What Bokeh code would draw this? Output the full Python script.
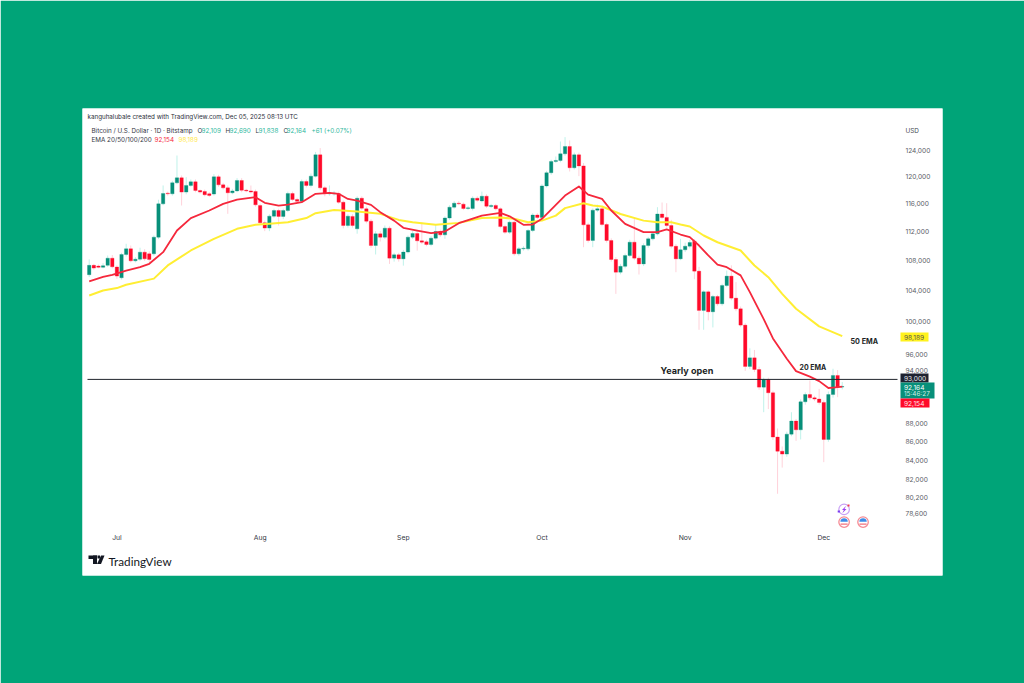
from bokeh.plotting import figure
from bokeh.embed import file_html
from bokeh.resources import INLINE
from bokeh.models import (FixedTicker, Label, NumeralTickFormatter,
                          PolyAnnotation, ColumnDataSource, Range1d)
import math

# ---- data (BTC/USD daily, 25 Jun - 5 Dec 2025) ----
opens = [106050,107300,107200,107030,107300,108270,107070,105640,108770,109550,
 107910,108130,109090,108860,108860,111160,115900,117470,117370,119000,
 119750,117620,118610,119150,117860,117720,117370,117330,119900,118700,
 118250,117520,117800,119350,117900,117800,117720,115660,113180,112430,
 114130,114940,114090,114940,117420,116530,116290,119200,118610,120000,
 123250,118250,117370,117370,117370,116140,112800,114090,112330,116720,
 115180,113410,110005,111630,111160,112420,108270,108730,108180,109100,
 111160,111670,110650,110510,110140,111020,111950,111480,113860,115420,
 116000,115860,115230,115230,116720,116330,117020,115520,115670,115185,
 112650,111860,113260,108860,109540,109540,112090,114290,113950,118540,
 120510,122230,122390,123400,124550,121270,123250,121550,112890,110700,
 114990,115185,112940,110700,108090,106380,107170,108630,110466,108270,
 107490,110000,110930,111620,114430,113950,112794,109900,108180,109410,
 109910,110605,106520,101400,103800,101230,103190,102250,104620,105860,
 102975,101610,99550,94520,95550,94160,92100,92950,91450,86510,
 84990,84680,86830,88260,87300,90420,91250,90870,90730,90350,
 86250,91250,93460,92109]
highs = [108110,107500,107400,107600,108630,108700,107300,109000,110240,110000,
 108400,109700,109500,109200,111400,116500,118610,117700,119300,123150,
 120100,119850,119500,119500,118000,118000,117600,120300,120200,119000,
 118600,118100,119700,119700,118100,118600,118000,115900,113500,114400,
 115200,115200,115200,117700,117700,116800,119500,119500,120400,123700,
 124300,118500,118610,117800,117700,116400,114400,114400,117000,117000,
 115500,113700,112000,112000,112800,112700,109000,109000,109400,111400,
 112000,112000,113260,110800,111300,112890,112200,114100,115700,116300,
 116300,116100,115600,117000,117000,117700,117300,115900,115900,115400,
 112900,113500,113500,109800,109900,112300,114550,114550,118800,120800,
 122500,123000,125330,126020,125500,123600,123600,122000,113200,115250,
 115800,115450,113200,111000,108400,107500,108900,110800,113950,108600,
 110300,111200,111900,115420,116100,116000,113600,110200,110930,110400,
 110800,110900,107100,104000,104000,103400,103400,104850,106600,107300,
 105070,101900,99800,96700,96500,94500,93200,93200,91700,87450,
 85500,87100,89250,88500,90700,91500,92870,91100,91900,90600,
 91600,94250,94100,92690]
lows = [105740,106700,106900,106900,107100,106900,105510,105400,108500,107700,
 107700,107900,107900,107730,108600,110900,115700,117100,117100,118800,
 115660,117300,118400,117600,117400,117000,116900,117100,118400,118000,
 114460,117300,117600,117600,117600,117400,115500,112900,112000,112000,
 113900,112800,113700,114700,116300,116000,116000,118300,118300,119800,
 117900,117000,117100,117100,115900,112400,112500,112500,111640,115000,
 113100,109700,108770,110550,110900,107490,107800,107800,107260,108900,
 110900,109300,110200,109900,109900,110800,111200,110930,113600,115200,
 115700,115000,115000,114950,116200,116100,115300,115300,114950,112400,
 111600,111600,108600,108600,109300,109300,111850,113700,113700,118300,
 120200,122000,122100,123100,120700,121000,120000,109770,110400,109770,
 114700,112700,110400,107800,103530,106100,106900,108400,108000,106070,
 107200,109700,110700,111400,113700,112500,109600,106380,108000,109100,
 109600,105450,98970,98970,100150,99260,102000,102000,104400,102700,
 101300,99300,94000,94200,93850,91800,89250,89600,86200,80570,
 83260,84400,86600,86100,86250,90100,90600,90500,90100,83830,
 86000,90900,90950,91838]
closes = [107300,106930,107030,107250,108270,107110,105860,108770,109550,107910,
 108130,109090,108180,108090,111160,115900,117420,117370,119000,119750,
 117620,118610,119150,117860,117620,117230,117130,119900,118700,118250,
 117520,117800,119350,117900,117800,117620,115760,113180,112430,114130,
 114940,114090,114940,117420,116530,116290,119200,118610,120000,123250,
 118250,117370,117520,117470,116140,112800,114130,112800,116720,115280,
 113410,110005,111630,111160,112420,108270,108730,108180,109100,111160,
 111670,110650,110470,110140,111020,111950,111480,113860,115420,116000,
 115900,115230,115330,116720,116430,117020,115570,115670,115185,112650,
 111860,113260,108860,109540,109630,112090,114290,113950,118540,120510,
 122230,122390,123400,124550,121270,123250,121550,112890,110700,114990,
 115185,112940,110700,108090,106380,107170,108630,110466,108270,107490,
 110000,110930,111620,114430,113950,112794,109900,108180,109410,109910,
 110420,106520,101400,103800,101230,103190,102250,104620,105860,102975,
 101610,99550,94520,95550,94160,92100,92950,91450,86510,84990,
 84680,86830,88260,87300,90420,91250,90870,90730,90350,86250,
 91250,93460,92100,92164]

ema20_days = [0,3,5,8,11,13,16,19,22,26,29,32,36,38,41,43,46,49,52,54,56,58,61,63,
 66,68,71,74,77,80,85,89,91,94,96,98,103,106,108,111,113,116,120,123,125,128,
 130,132,134,136,138,141,143,146,148,151,153,156,158,160,161,163]
ema20 = [105160,105750,106040,106600,107050,107510,109090,112090,113850,114940,115900,116530,116870,116050,115660,115800,116140,117370,117520,117370,116620,116380,115760,114700,
 113490,112470,112090,111720,111950,113120,114200,114590,114100,112890,112940,113750,117120,118450,117260,116620,114940,113030,111860,111860,112240,111530,
 111160,110000,108640,107410,107050,105960,103760,100310,97900,95430,93970,93330,92800,92000,92050,92154]
ema50_days = [0,3,6,8,14,17,22,27,32,36,39,43,47,49,53,58,63,67,70,75,80,85,89,92,95,98,101,103,
 107,109,111,115,120,123,126,128,130,133,136,141,144,147,150,153,158,163]
ema50 = [103310,103970,104280,104720,105530,107290,109320,110925,112330,112900,113040,113270,113850,114560,115000,114800,114460,113590,113260,112890,113170,113850,113950,113750,113260,113490,114200,115280,
 116000,115670,115520,114430,113490,113260,113260,112940,112660,111390,110450,109310,107280,105720,103530,101610,99390,98189]

yticks = [78600,80200,82000,84000,86000,88000,94000,96000,100000,104000,108000,112000,116000,120000,124000]
month_days = [6,37,68,98,129,159]
month_names = ["Jul","Aug","Sep","Oct","Nov","Dec"]
yearly_open = 93000
chart_span = [-0.37, 174.96]

BG = "#00A478"; UP = "#07907A"; DOWN = "#FF0A2A"
FONT = "Inter"

days = list(range(len(opens)))
src = ColumnDataSource(dict(
    x=days, o=opens, h=highs, l=lows, c=closes,
    col=[UP if c >= o else DOWN for o, c in zip(opens, closes)],
    wick=["#BFF2EA" if c >= o else "#FFD2DA" for o, c in zip(opens, closes)],
))

W, H = 1024, 683
p = figure(width=W, height=H, output_backend="svg", toolbar_location=None,
           y_axis_type="log", y_axis_location="right",
           x_range=Range1d(-1.45, 184.7), y_range=Range1d(72723, 130625),
           min_border_left=82, min_border_right=W-942, min_border_top=108, min_border_bottom=H-575,
           background_fill_color="white", border_fill_color=BG, outline_line_color=None)
p.grid.visible = False

p.segment("x", "h", "x", "l", source=src, color="wick", line_width=1)
p.vbar("x", 0.74, "o", "c", source=src, fill_color="col", line_color="col", line_width=0.3)
p.line(ema50_days, ema50, color="#FFEE33", line_width=2, line_join="round")
p.line(ema20_days, ema20, color="#F5283C", line_width=1.8, line_join="round")
p.line(chart_span, [yearly_open, yearly_open], color="#20242C", line_width=1)

ax = p.yaxis[0]
ax.fixed_location = chart_span[1]
ax.ticker = FixedTicker(ticks=yticks)
ax.formatter = NumeralTickFormatter(format="0,0")
ax.major_tick_line_color = None; ax.minor_tick_line_color = None; ax.axis_line_color = None
ax.major_label_text_font = FONT; ax.major_label_text_font_size = "6.6px"
ax.major_label_text_color = "#5a5d66"; ax.major_label_standoff = 2

bx = p.xaxis[0]
bx.fixed_location = 77540
bx.ticker = FixedTicker(ticks=month_days)
bx.major_label_overrides = dict(zip(month_days, month_names))
bx.major_tick_line_color = None; bx.minor_tick_line_color = None; bx.axis_line_color = None
bx.major_label_text_font = FONT; bx.major_label_text_font_size = "6.8px"
bx.major_label_text_color = "#33363f"; bx.major_label_standoff = 3

def T(x, y, s, size=6.5, color="#33363f", bold=False, font=FONT, align="left"):
    p.add_layout(Label(x=x, y=y, x_units="canvas", y_units="canvas", text=s,
                       text_font=font, text_font_size=f"{size}px", text_color=color,
                       text_baseline="middle", text_align=align,
                       text_font_style="bold" if bold else "normal"))

def B(l, r, t, b, color):
    xs = [l, r, r, l]; ys = [t, t, b, b]
    p.add_layout(PolyAnnotation(xs=xs, ys=ys, xs_units="canvas", ys_units="canvas",
                 fill_color=color, fill_alpha=1, line_color=None))

def P(xs, ys, color):
    p.add_layout(PolyAnnotation(xs=xs, ys=ys, xs_units="canvas", ys_units="canvas",
                 fill_color=color, fill_alpha=1, line_color=None))

T(87, 116, "kanguhalubale created with TradingView.com, Dec 05, 2025 08:13 UTC", 6.25, "#2a2e39")
T(91, 130, "Bitcoin / U.S. Dollar · 1D · Bitstamp", 6.3)
GR = "#2fb89e"
for x, s, c in [(197,"O","#33363f"),(201,"92,109",GR),(225,"H","#33363f"),(229,"92,690",GR),
                (255,"L","#33363f"),(258,"91,838",GR),(283,"C","#33363f"),(286,"92,164",GR),(311,"+61 (+0.07%)",GR)]:
    T(x, 130, s, 6.3, c)
T(91, 139, "EMA 20/50/100/200", 6.3)
T(154, 139, "92,154", 6.3, "#F5283C")
T(178, 139, "98,189", 6.3, "#FFE94A")
T(905, 130, "USD", 6.4, "#4a4d56")

T(660, 370, "Yearly open", 9.1, "#1c1f26", True)
T(799, 367, "20 EMA", 7.0, "#1c1f26", True)
T(850, 341, "50 EMA", 7.2, "#1c1f26", True)

B(900, 928, 332, 341, "#FFF21E"); T(903.5, 336.5, "98,189", 6.6, "#55524a")
B(900, 928, 373, 382, "#1F2230"); T(903.5, 377.5, "93,000", 6.6, "#e8e8ee")
B(900, 934, 382, 398, "#07907A"); T(903.5, 386.5, "92,164", 6.6, "#ffffff"); T(903.5, 393.5, "15:46:27", 6.4, "#cfeee6")
B(900, 929, 398, 407, "#FF0A2A"); T(903.5, 402.5, "92,154", 6.6, "#ffe5e8")

# TradingView logo
B(88, 96.5, 555, 558.5, "#131722")
B(92.5, 96.5, 555, 563.5, "#131722")
B(97, 99.5, 555, 558, "#131722")
P([100.5,104,100.5,96.5], [555,555,563.5,563.5], "#131722")
T(108, 560, "TradingView", 11.7, "#131722", False, font="Lato")

# event icons under the last candles
ev_x = [163.4, 163.4, 167.5]
ev_y = [79010, 77760, 77760]
p.scatter(ev_x[1:], ev_y[1:], size=10.5, fill_color="#ffffff", line_color="#F58A94", line_width=1.3)
p.wedge(ev_x[1:], [v*1.0003 for v in ev_y[1:]], radius=3.7, radius_units="screen", start_angle=0, end_angle=math.pi,
        fill_color="#3E8CE8", line_color=None)
p.rect(ev_x[1:], [v*0.9975 for v in ev_y[1:]], width=1.55, height=140, fill_color="#F0707C", line_color=None)
p.scatter(ev_x[:1], ev_y[:1], size=10.5, fill_color="#ffffff", line_color="#C9A0F5", line_width=1.2)
P([845.6,841.5,843.4,841.8,846,844], [505.2,509.6,509.6,512.8,508.4,508.4], "#9A3CF0")
P([837.2,839.4,839.4,837.2], [510,510,512,512], "#7A3CF0")
P([847,849,849,847], [504,504,506,506], "#F03C50")

html = file_html(p, INLINE)
html = html.replace("<body>", f'<body style="background:{BG};margin:0;overflow:hidden">', 1)
open("out.html", "w").write(html)
